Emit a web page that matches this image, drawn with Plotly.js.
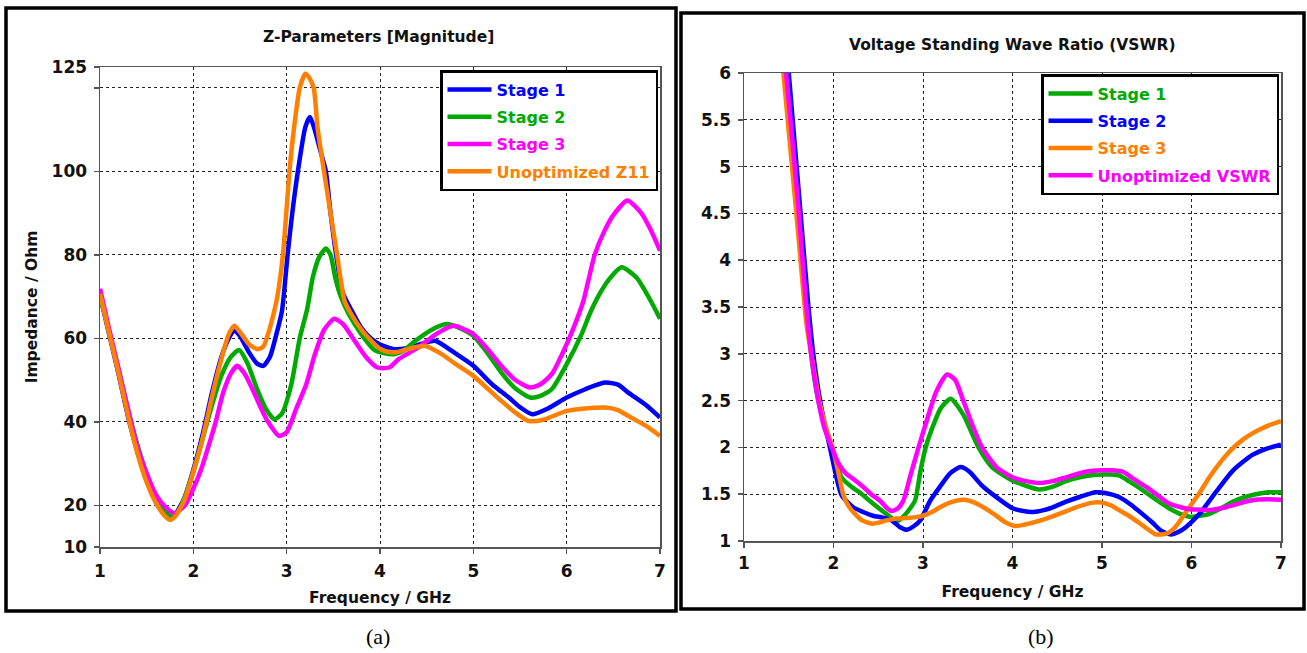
<!DOCTYPE html>
<html>
<head>
<meta charset="utf-8">
<script src="https://cdn.plot.ly/plotly-3.0.1.min.js"></script>
<style>html,body{margin:0;padding:0;background:#fff;}#chart{width:1307px;height:653px;}</style>
</head>
<body>
<div id="chart"></div>
<script>
// ---------- (a) Z-Parameters [Magnitude] ----------
const zStage1F = [1.0,1.1,1.2,1.3,1.4,1.5,1.6,1.7,1.75,1.8,1.9,2.0,2.1,2.2,2.3,2.38,2.44,2.5,2.6,2.68,2.75,2.82,2.89,2.95,3.01,3.06,3.12,3.2,3.25,3.3,3.36,3.42,3.47,3.53,3.6,3.7,3.8,3.9,4.0,4.15,4.3,4.45,4.59,4.8,5.0,5.2,5.38,5.5,5.63,5.8,6.0,6.2,6.41,6.55,6.66,6.85,7.0];
const zStage1V = [70.3,60.8,51.3,41.3,33,26.3,21,17.5,16.8,17.6,21.5,28.5,37,47,55.5,60,61.8,60.5,56.5,54,53.4,55.5,61,66.6,80,90,100,110.6,113,110,105,100,90,80,71,66.5,62.5,60,58.5,57.4,57.7,58.7,59.4,56.5,53.4,49,45.8,43.5,41.8,43.2,45.8,47.8,49.4,48.9,47,44,41];

const zStage2F = [1.0,1.1,1.2,1.3,1.4,1.5,1.6,1.7,1.76,1.82,1.9,2.0,2.1,2.2,2.3,2.4,2.49,2.58,2.68,2.78,2.87,2.95,3.05,3.14,3.22,3.28,3.35,3.42,3.47,3.52,3.58,3.66,3.8,3.94,4.05,4.15,4.25,4.38,4.55,4.71,4.85,5.0,5.15,5.3,5.45,5.61,5.72,5.84,6.0,6.16,6.25,6.35,6.45,6.59,6.75,6.9,7.0];
const zStage2V = [70.2,61.5,52.5,43,34.5,27.5,22,18.5,17.3,17.8,21.5,28,36,44,51,55.5,57.2,54,48,43,40.6,42,49,60,67,74.6,79.5,81.5,80,74.6,70,66,61,57.2,56.4,56.2,57,59.4,62,63.4,62.5,60.6,56.5,51.8,48,45.8,46.2,47.8,53.8,61,66,70.5,74,77,74.5,69,64.7];

const zStage3F = [1.0,1.1,1.2,1.3,1.4,1.52,1.6,1.7,1.8,1.91,2.0,2.09,2.16,2.24,2.32,2.4,2.47,2.55,2.65,2.72,2.8,2.92,3.0,3.1,3.21,3.3,3.4,3.51,3.6,3.71,3.85,3.97,4.1,4.2,4.41,4.6,4.79,5.0,5.15,5.3,5.45,5.61,5.72,5.84,6.0,6.1,6.18,6.3,6.4,6.5,6.65,6.8,6.9,7.0];
const zStage3V = [71.9,62,52.5,43,34,26.5,22.5,19.6,18.1,20,24,29,34,40,47,51.5,53.4,51.5,47,43.5,40,36.6,37.5,43,49,56,62,64.7,63.5,60,55.5,53,53,55,57.8,61,63,61,57.5,53.4,50,48.2,49,51.4,58.6,64,69,80,85.5,89.5,93,90,86,81];

const zUnoptF = [1.0,1.1,1.2,1.3,1.4,1.5,1.6,1.7,1.75,1.8,1.9,2.0,2.1,2.2,2.3,2.38,2.44,2.5,2.6,2.69,2.75,2.8,2.85,2.9,2.96,3.03,3.08,3.14,3.2,3.24,3.29,3.33,3.4,3.47,3.54,3.62,3.7,3.84,4.0,4.1,4.2,4.3,4.48,4.66,4.8,5.0,5.15,5.3,5.45,5.59,5.75,6.0,6.2,6.41,6.55,6.66,6.85,7.0];
const zUnoptV = [70.7,61,51.5,41.5,32.5,25.5,20.5,17.3,16.5,17.2,21,28,36,46,55,61,63,61.5,58.5,57.4,58,61,65,70,80,100,110.6,120,123.4,122.5,120,110.6,100,90,80,69,65.5,61,57.5,56.7,56.8,57.4,58.2,56.2,54,51,48,45,42.2,40.2,40.5,42.6,43.2,43.4,42.8,41.4,39,36.6];

const zTickVals = [10,20,40,60,80,100,120,125];
const zTickText = ['10','20','40','60','80','100','','125'];

// ---------- (b) VSWR ----------
const vStage1F = [1.45,1.5,1.6,1.71,1.75,1.83,1.9,1.98,2.09,2.2,2.29,2.44,2.59,2.71,2.8,2.91,2.97,3.03,3.1,3.2,3.31,3.45,3.62,3.77,3.99,4.15,4.30,4.45,4.6,4.75,4.86,5.0,5.1,5.19,5.3,5.49,5.62,5.75,5.87,5.98,6.1,6.20,6.33,6.46,6.6,6.72,6.86,7.0];
const vStage1V = [6.2,5.7,4.65,3.5,3.0,2.5,2.25,2.0,1.68,1.58,1.52,1.40,1.29,1.21,1.28,1.43,1.74,2.0,2.2,2.42,2.52,2.35,2.0,1.79,1.65,1.59,1.55,1.58,1.64,1.68,1.70,1.71,1.71,1.70,1.64,1.52,1.43,1.35,1.29,1.26,1.27,1.29,1.35,1.42,1.47,1.50,1.52,1.52];

const vStage2F = [1.48,1.55,1.62,1.72,1.78,1.86,1.96,2.09,2.22,2.33,2.44,2.55,2.65,2.74,2.82,2.9,2.97,3.08,3.19,3.3,3.42,3.52,3.65,3.79,4.0,4.12,4.23,4.35,4.45,4.6,4.75,4.93,5.05,5.19,5.32,5.45,5.56,5.66,5.77,5.86,5.94,6.09,6.27,6.46,6.68,6.85,7.0];
const vStage2V = [6.23,5.43,4.64,3.5,2.95,2.45,2.0,1.49,1.36,1.31,1.27,1.25,1.22,1.15,1.12,1.16,1.22,1.43,1.58,1.72,1.79,1.74,1.6,1.49,1.35,1.32,1.31,1.33,1.36,1.42,1.47,1.52,1.51,1.47,1.39,1.29,1.2,1.11,1.07,1.1,1.15,1.29,1.52,1.75,1.92,1.99,2.03];

const vStage3F = [1.42,1.5,1.6,1.7,1.76,1.84,1.92,1.99,2.05,2.11,2.17,2.24,2.32,2.43,2.52,2.59,2.7,2.82,2.92,3.0,3.1,3.19,3.3,3.45,3.6,3.79,3.92,4.03,4.2,4.38,4.55,4.71,4.9,5.0,5.1,5.19,5.3,5.42,5.52,5.60,5.72,5.8,5.86,5.93,5.99,6.1,6.20,6.33,6.46,6.57,6.68,6.85,7.0];
const vStage3V = [6.21,5.38,4.34,3.3,2.95,2.5,2.2,2.0,1.75,1.49,1.37,1.29,1.22,1.185,1.2,1.22,1.24,1.245,1.255,1.27,1.31,1.36,1.41,1.44,1.4,1.29,1.2,1.16,1.19,1.24,1.30,1.36,1.41,1.41,1.38,1.33,1.27,1.19,1.12,1.07,1.08,1.13,1.2,1.3,1.38,1.53,1.68,1.85,1.99,2.08,2.15,2.23,2.28];

const vUnoptF = [1.44,1.5,1.6,1.69,1.75,1.83,1.9,1.98,2.06,2.14,2.24,2.33,2.42,2.52,2.6,2.65,2.72,2.78,2.86,2.95,3.03,3.15,3.27,3.36,3.45,3.56,3.66,3.82,4.0,4.15,4.30,4.45,4.6,4.82,5.0,5.1,5.23,5.36,5.49,5.62,5.75,5.88,5.98,6.1,6.20,6.33,6.46,6.6,6.72,6.86,7.0];
const vUnoptV = [6.31,5.69,4.65,3.57,3.0,2.5,2.2,2.0,1.82,1.72,1.65,1.58,1.50,1.43,1.35,1.32,1.35,1.43,1.7,2.0,2.25,2.6,2.78,2.72,2.5,2.22,2.0,1.79,1.68,1.64,1.62,1.64,1.68,1.74,1.755,1.755,1.74,1.66,1.58,1.49,1.40,1.36,1.34,1.335,1.33,1.35,1.38,1.42,1.44,1.445,1.44];

// ---------- styling ----------
const W = 1307, H = 653;
const px = x => x / W;
const py = y => 1 - y / H;
const BLUE = '#0000ff', GREEN = '#00aa00', MAGENTA = '#ff00ff', ORANGE = '#ff8000';
const FONT = 'DejaVu Sans, Verdana, sans-serif';
const lbl = (t, c) => '<span style="color:' + c + '">' + t + '</span>';

function tr(x, y, name, color, xa, ya, leg, grp) {
  return {x: x, y: y, name: lbl(name, color), type: 'scatter', mode: 'lines',
    line: {color: color, width: 4.5, shape: 'spline', smoothing: 0.6},
    xaxis: xa, yaxis: ya, legend: leg, legendgroup: grp, hoverinfo: 'skip'};
}

const data = [
  tr(zStage1F, zStage1V, 'Stage 1', BLUE, 'x', 'y', 'legend', 'a1'),
  tr(zStage2F, zStage2V, 'Stage 2', GREEN, 'x', 'y', 'legend', 'a2'),
  tr(zStage3F, zStage3V, 'Stage 3', MAGENTA, 'x', 'y', 'legend', 'a3'),
  tr(zUnoptF, zUnoptV, 'Unoptimized Z11', ORANGE, 'x', 'y', 'legend', 'a4'),
  tr(vStage1F, vStage1V, 'Stage 1', GREEN, 'x2', 'y2', 'legend2', 'b1'),
  tr(vStage2F, vStage2V, 'Stage 2', BLUE, 'x2', 'y2', 'legend2', 'b2'),
  tr(vStage3F, vStage3V, 'Stage 3', ORANGE, 'x2', 'y2', 'legend2', 'b3'),
  tr(vUnoptF, vUnoptV, 'Unoptimized VSWR', MAGENTA, 'x2', 'y2', 'legend2', 'b4')
];

const tickFont = {family: FONT, size: 17, color: '#111', weight: 'bold'};
const titleFont = {family: FONT, size: 15.5, color: '#111', weight: 'bold'};
const axBase = {
  showline: true, linecolor: '#555', linewidth: 1.5, mirror: true,
  ticks: 'outside', ticklen: 5, tickcolor: '#555', tickwidth: 1.5,
  showgrid: true, gridcolor: '#222', gridwidth: 1, griddash: '3px,3px',
  zeroline: false, tickfont: tickFont, fixedrange: true
};

const legBase = {
  bgcolor: '#fff', bordercolor: '#000', borderwidth: 2.5,
  font: {family: FONT, size: 16, weight: 'bold', color: '#000'},
  xanchor: 'left', yanchor: 'top', tracegroupgap: 3.5, itemwidth: 44
};

const layout = {
  width: W, height: H,
  margin: {l: 0, r: 0, t: 0, b: 0},
  paper_bgcolor: '#fff', plot_bgcolor: '#fff',
  showlegend: true,
  xaxis: Object.assign({}, axBase, {domain: [px(100), px(660)], anchor: 'y', range: [1, 7], tick0: 1, dtick: 1,
    ticklabelstandoff: 3,
    title: {text: 'Frequency / GHz', font: titleFont, standoff: 12}}),
  yaxis: Object.assign({}, axBase, {domain: [py(547), py(67)], anchor: 'x', range: [10, 125],
    tickmode: 'array', tickvals: zTickVals, ticktext: zTickText, ticklabelstandoff: 3,
    title: {text: 'Impedance / Ohm', font: titleFont, standoff: 10}}),
  xaxis2: Object.assign({}, axBase, {domain: [px(744), px(1281)], anchor: 'y2', range: [1, 7], tick0: 1, dtick: 1,
    ticklabelstandoff: 1,
    title: {text: 'Frequency / GHz', font: titleFont, standoff: 14}}),
  yaxis2: Object.assign({}, axBase, {domain: [py(541), py(73)], anchor: 'x2', range: [1, 6], tick0: 1, dtick: 0.5,
    ticklabelstandoff: 3}),
  legend: Object.assign({}, legBase, {x: px(440), y: py(70)}),
  legend2: Object.assign({}, legBase, {x: px(1041), y: py(74)}),
  annotations: [
    {text: 'Z-Parameters [Magnitude]', xref: 'paper', yref: 'paper', x: px(378), y: py(37),
      xanchor: 'center', yanchor: 'middle', showarrow: false, font: titleFont},
    {text: 'Voltage Standing Wave Ratio (VSWR)', xref: 'paper', yref: 'paper', x: px(1012), y: py(45),
      xanchor: 'center', yanchor: 'middle', showarrow: false, font: titleFont},
    {text: '(a)', xref: 'paper', yref: 'paper', x: px(378), y: py(636),
      xanchor: 'center', yanchor: 'middle', showarrow: false,
      font: {family: 'Liberation Serif, Times New Roman, serif', size: 22, color: '#000'}},
    {text: '(b)', xref: 'paper', yref: 'paper', x: px(1041), y: py(636),
      xanchor: 'center', yanchor: 'middle', showarrow: false,
      font: {family: 'Liberation Serif, Times New Roman, serif', size: 22, color: '#000'}}
  ],
  shapes: [
    {type: 'rect', xref: 'paper', yref: 'paper', x0: px(6), x1: px(676), y0: py(611), y1: py(8),
      line: {color: '#000', width: 3.5}},
    {type: 'rect', xref: 'paper', yref: 'paper', x0: px(681), x1: px(1304), y0: py(609), y1: py(13),
      line: {color: '#000', width: 3.5}}
  ]
};

Plotly.newPlot('chart', data, layout, {staticPlot: true, displayModeBar: false});
</script>
</body>
</html>
